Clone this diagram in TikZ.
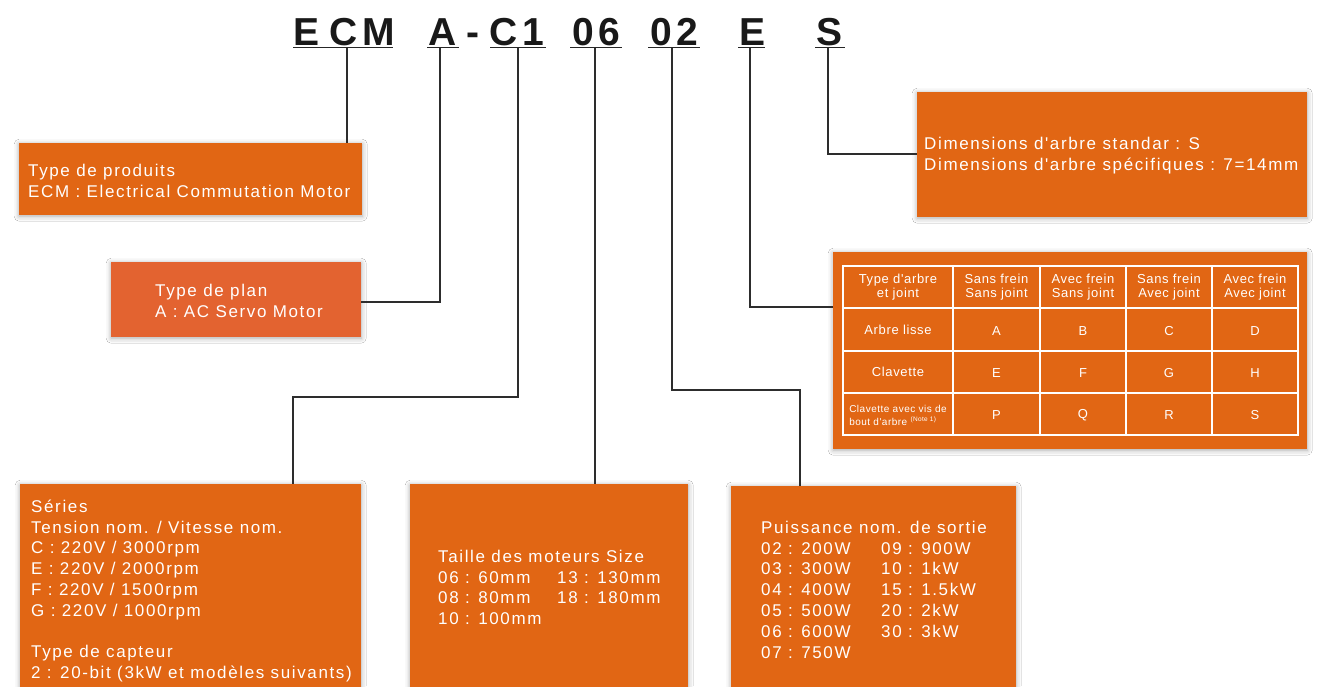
\documentclass[tikz,border=0pt]{standalone}
\usepackage{fontspec}
\setmainfont{Liberation Sans}
\newfontfamily\bxf[LetterSpace=9.6]{Liberation Sans}
\newfontfamily\bxs[LetterSpace=5]{Liberation Sans}
\newfontfamily\hdf{Liberation Sans}
\usetikzlibrary{shadows.blur}
\definecolor{org}{RGB}{225,102,20}
\definecolor{org2}{RGB}{227,99,48}
\definecolor{ln}{RGB}{45,45,45}
\newcommand\firstrule{\rule{0pt}{16pt}}
\begin{document}
\begin{tikzpicture}[x=1pt,y=-1pt,
  box/.style={draw=none,fill=org,inner sep=0pt,anchor=north west,
    blur shadow={shadow xshift=0pt,shadow yshift=-1pt,shadow blur radius=5pt,shadow opacity=35}},
  txt/.style={anchor=north west,inner sep=0pt,align=left,text=white,
    font=\bxf\fontsize{17}{20.8}\selectfont},
  hd/.style={anchor=base,inner sep=0pt,text=black!90,font=\hdf\bfseries\fontsize{39}{40}\selectfont},
  uline/.style={draw=black!85,line width=1.5pt},
  conn/.style={draw=ln,line width=1.4pt},
  grid/.style={draw=white,line width=1.8pt},
  cellh/.style={inner sep=0pt,align=center,text=white,font=\bxs\fontsize{13}{14}\selectfont},
  cell/.style={inner sep=0pt,text=white,font=\bxs\fontsize{13}{14}\selectfont}]
\useasboundingbox (0,0) rectangle (1336,686);
\fill[white] (0,0) rectangle (1336,686);

% header code
\node[hd] (cE1) at (307,45) {E};
\node[hd] (cC1) at (344,45) {C};
\node[hd] (cM)  at (378.5,45) {M};
\node[hd] (cA)  at (443,45) {A};
\node[hd] (cD)  at (473,45) {-};
\node[hd] (cC2) at (504,45) {C};
\node[hd] (c1)  at (533,45) {1};
\node[hd] (c0a) at (583,45) {0};
\node[hd] (c6)  at (609,45) {6};
\node[hd] (c0b) at (661,45) {0};
\node[hd] (c2)  at (687,45) {2};
\node[hd] (cE2) at (752,45) {E};
\node[hd] (cS)  at (829,45) {S};

\draw[uline] (293,47.5) -- (393,47.5);
\draw[uline] (427,47.5) -- (459,47.5);
\draw[uline] (490,47.5) -- (546,47.5);
\draw[uline] (570,47.5) -- (622,47.5);
\draw[uline] (648,47.5) -- (700,47.5);
\draw[uline] (738,47.5) -- (765,47.5);
\draw[uline] (815,47.5) -- (845,47.5);

\coordinate (uECM) at (347,48);
\coordinate (uA) at (440,48);
\coordinate (uC) at (518,48);
\coordinate (u06) at (595,48);
\coordinate (u02) at (672,48);
\coordinate (uE) at (750,48);
\coordinate (uS) at (828,48);

% boxes
\node[box,minimum width=343,minimum height=72] (b1) at (19,143) {};
\node[box,fill=org2,minimum width=250,minimum height=75] (b2) at (111,262) {};
\node[box,minimum width=341,minimum height=216] (b3) at (20,484) {};
\node[box,minimum width=278,minimum height=216] (b4) at (410,484) {};
\node[box,minimum width=285,minimum height=214] (b5) at (731,486) {};
\node[box,minimum width=474,minimum height=197] (tb) at (833,252) {};
\node[box,minimum width=390,minimum height=125] (b6) at (917,92) {};

% connectors
\coordinate (k2) at (b2.east |- 0,302);
\coordinate (k3) at (293,397);
\coordinate (k5) at (800,390);
\coordinate (k6) at (tb.west |- 0,307);
\coordinate (k7) at (b6.west |- 0,154);
\draw[conn] (uECM) -- (uECM |- b1.north);
\draw[conn] (uA) |- (k2);
\draw[conn] (uC) |- (k3) -- (k3 |- b3.north);
\draw[conn] (u06) -- (u06 |- b4.north);
\draw[conn] (u02) |- (k5) -- (k5 |- b5.north);
\draw[conn] (uE) |- (k6);
\draw[conn] (uS) |- (k7);

% texts
\node[txt] (t1) at (28,160) {\firstrule Type de produits\\ECM : Electrical Commutation Motor};
\node[txt] (t2) at (155,280) {\firstrule Type de plan\\A : AC Servo Motor};
\node[txt] (t3) at (31,496) {\firstrule Séries\\Tension nom. / Vitesse nom.\\C : 220V / 3000rpm\\E : 220V / 2000rpm\\F : 220V / 1500rpm\\G : 220V / 1000rpm\\[20.8pt]Type de capteur\\2 : 20-bit (3kW et modèles suivants)};
\node[txt] (t4a) at (438,546) {\firstrule Taille des moteurs Size\\06 : 60mm\\08 : 80mm\\10 : 100mm};
\node[txt] (t4b) at (557,566.8) {\firstrule 13 : 130mm\\18 : 180mm};
\node[txt] (t5a) at (761,517) {\firstrule Puissance nom. de sortie\\02 : 200W\\03 : 300W\\04 : 400W\\05 : 500W\\06 : 600W\\07 : 750W};
\node[txt] (t5b) at (881,537.8) {\firstrule 09 : 900W\\10 : 1kW\\15 : 1.5kW\\20 : 2kW\\30 : 3kW};
\node[txt] (t6) at (924,133) {\firstrule Dimensions d'arbre standar : S\\Dimensions d'arbre spécifiques : 7=14mm};

% table grid
\draw[grid] (843,266) rectangle (1298,435);
\foreach \xx in {953,1040,1126,1212} \draw[grid] (\xx,266) -- (\xx,435);
\foreach \yy in {308,351,393} \draw[grid] (843,\yy) -- (1298,\yy);

% table texts
\node[cellh] (h0) at (898,287.5) {Type d'arbre\\et joint};
\node[cellh] (h1) at (996.5,287.5) {Sans frein\\Sans joint};
\node[cellh] (h2) at (1083,287.5) {Avec frein\\Sans joint};
\node[cellh] (h3) at (1169,287.5) {Sans frein\\Avec joint};
\node[cellh] (h4) at (1255,287.5) {Avec frein\\Avec joint};
\node[cell] (r1) at (898,329.5) {Arbre lisse};
\node[cell] (r2) at (898,372) {Clavette};
\node[inner sep=0pt,align=left,text=white,font=\bxs\fontsize{10}{13}\selectfont] (r3) at (898,415)
  {Clavette avec vis de\\bout d'arbre {\fontsize{6.5}{7}\selectfont\raisebox{3.5pt}{(Note 1)}}};
\node[cell] (a1) at (996.5,331) {A};
\node[cell] (a2) at (1083,331) {B};
\node[cell] (a3) at (1169,331) {C};
\node[cell] (a4) at (1255,331) {D};
\node[cell] (e1) at (996.5,373.5) {E};
\node[cell] (e2) at (1083,373.5) {F};
\node[cell] (e3) at (1169,373.5) {G};
\node[cell] (e4) at (1255,373.5) {H};
\node[cell] (p1) at (996.5,415.5) {P};
\node[cell] (p2) at (1083,415.5) {Q};
\node[cell] (p3) at (1169,415.5) {R};
\node[cell] (p4) at (1255,415.5) {S};
\end{tikzpicture}
\end{document}
